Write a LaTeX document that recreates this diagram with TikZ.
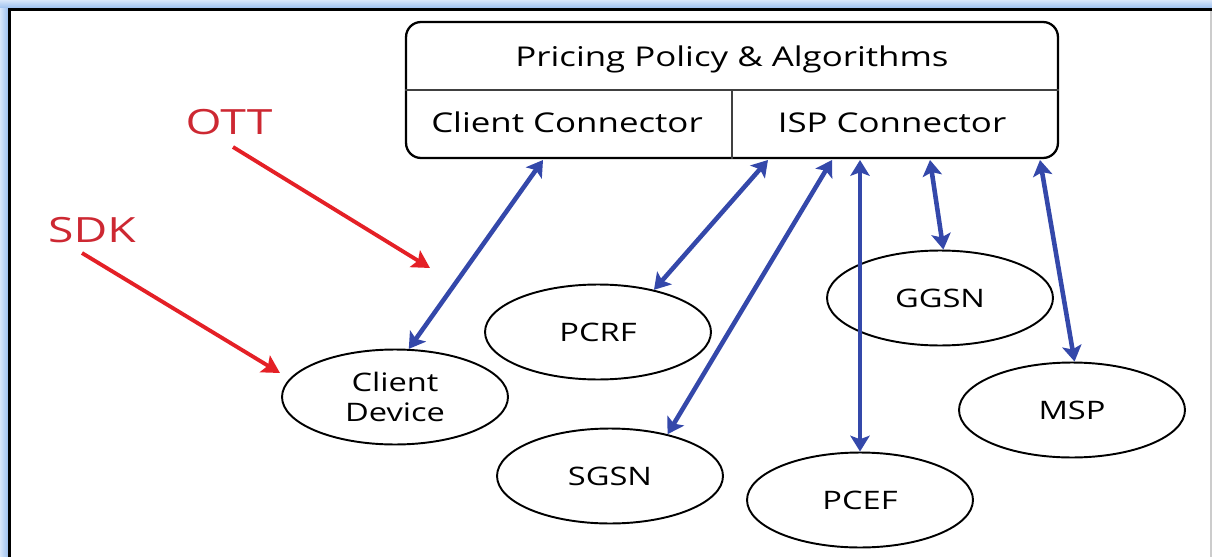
\documentclass[tikz,border=0pt]{standalone}
\usepackage{fontspec}
\setmainfont{Open Sans}[FakeStretch=1.28]
\newfontfamily\redfont{Open Sans}[FakeStretch=1.33]
\usetikzlibrary{arrows.meta,shapes.geometric}
\definecolor{arrblue}{RGB}{52,72,170}
\definecolor{arrred}{RGB}{228,32,38}
\definecolor{txtred}{RGB}{205,40,50}
\definecolor{bandlight}{RGB}{215,230,250}
\definecolor{banddark}{RGB}{150,188,238}
\begin{document}
\begin{tikzpicture}[x=0.02cm,y=-0.02cm,
  ell/.style={draw, ellipse, line width=1.1pt, minimum width=4.52cm, minimum height=1.9cm, inner sep=0pt, align=center, font=\fontsize{14.5}{17}\selectfont},
  bl/.style={arrblue, line width=2.6pt, {Stealth[length=9pt,width=11pt,inset=2pt]}-{Stealth[length=9pt,width=11pt,inset=2pt]}},
  rd/.style={arrred, line width=2.2pt, -{Stealth[length=10pt,width=11pt,inset=2pt]}},
  lbl/.style={font=\fontsize{15.5}{18}\selectfont, anchor=base, inner sep=0pt},
  rlbl/.style={font=\redfont\fontsize{19.8}{22}\selectfont, anchor=base, inner sep=0pt, text=txtred}]
\useasboundingbox (0,0) rectangle (1212,557);
% frame
\shade[top color=bandlight, bottom color=banddark] (0,0) rectangle (1212,9);
\shade[left color=bandlight, right color=banddark] (0,9) rectangle (9,557);
\draw[black!20, line width=0.6pt] (1211,9) -- (1211,557);
\draw[line width=1.4pt] (9.5,557) -- (9.5,9.5) -- (1212,9.5);
% top box
\node[draw, rounded corners=8.5pt, line width=1.3pt, minimum width=13.04cm, minimum height=2.72cm, inner sep=0pt] (box) at (732,90) {};
\draw[line width=1.1pt, black!75] (box.west) -- (box.east);
\draw[line width=1.1pt, black!75] (732,90) -- (box.south);
\node[lbl] (pp) at (732,67) {Pricing Policy \& Algorithms};
\node[lbl] (cc) at (567,133) {Client Connector};
\node[lbl] (isp) at (892,133) {ISP Connector};
% labels
\node[rlbl] (ott) at (229,135) {OTT};
\node[rlbl] (sdk) at (92,242) {SDK};
% ellipses
\node[ell] (cd) at (395,397) {Client\\Device};
\node[ell] (pcrf) at (598,332) {PCRF};
\node[ell] (sgsn) at (610,476) {SGSN};
\node[ell] (ggsn) at (940,298) {GGSN};
\node[ell] (pcef) at (860,500) {PCEF};
\node[ell] (msp) at (1072,410) {MSP};
% connector points on box
\coordinate (b1) at (543,160);
\coordinate (b2) at (768,160);
\coordinate (b3) at (832,160);
\coordinate (b4) at (860,160);
\coordinate (b5) at (930,160);
\coordinate (b6) at (1040,160);
\draw[bl] (b1) -- (cd.74);
\draw[bl] (b2) -- (pcrf.37);
\draw[bl] (b3) -- (sgsn.36);
\draw[bl] (b4) -- (pcef.north);
\draw[bl] (b5) -- (ggsn.86);
\draw[bl] (b6) -- (msp.87);
% red arrows
\coordinate (o1) at (233,147);
\coordinate (o2) at (430,268);
\coordinate (s1) at (82,253);
\coordinate (s2) at (280,373);
\draw[rd] (o1) -- (o2);
\draw[rd] (s1) -- (s2);
\end{tikzpicture}
\end{document}
